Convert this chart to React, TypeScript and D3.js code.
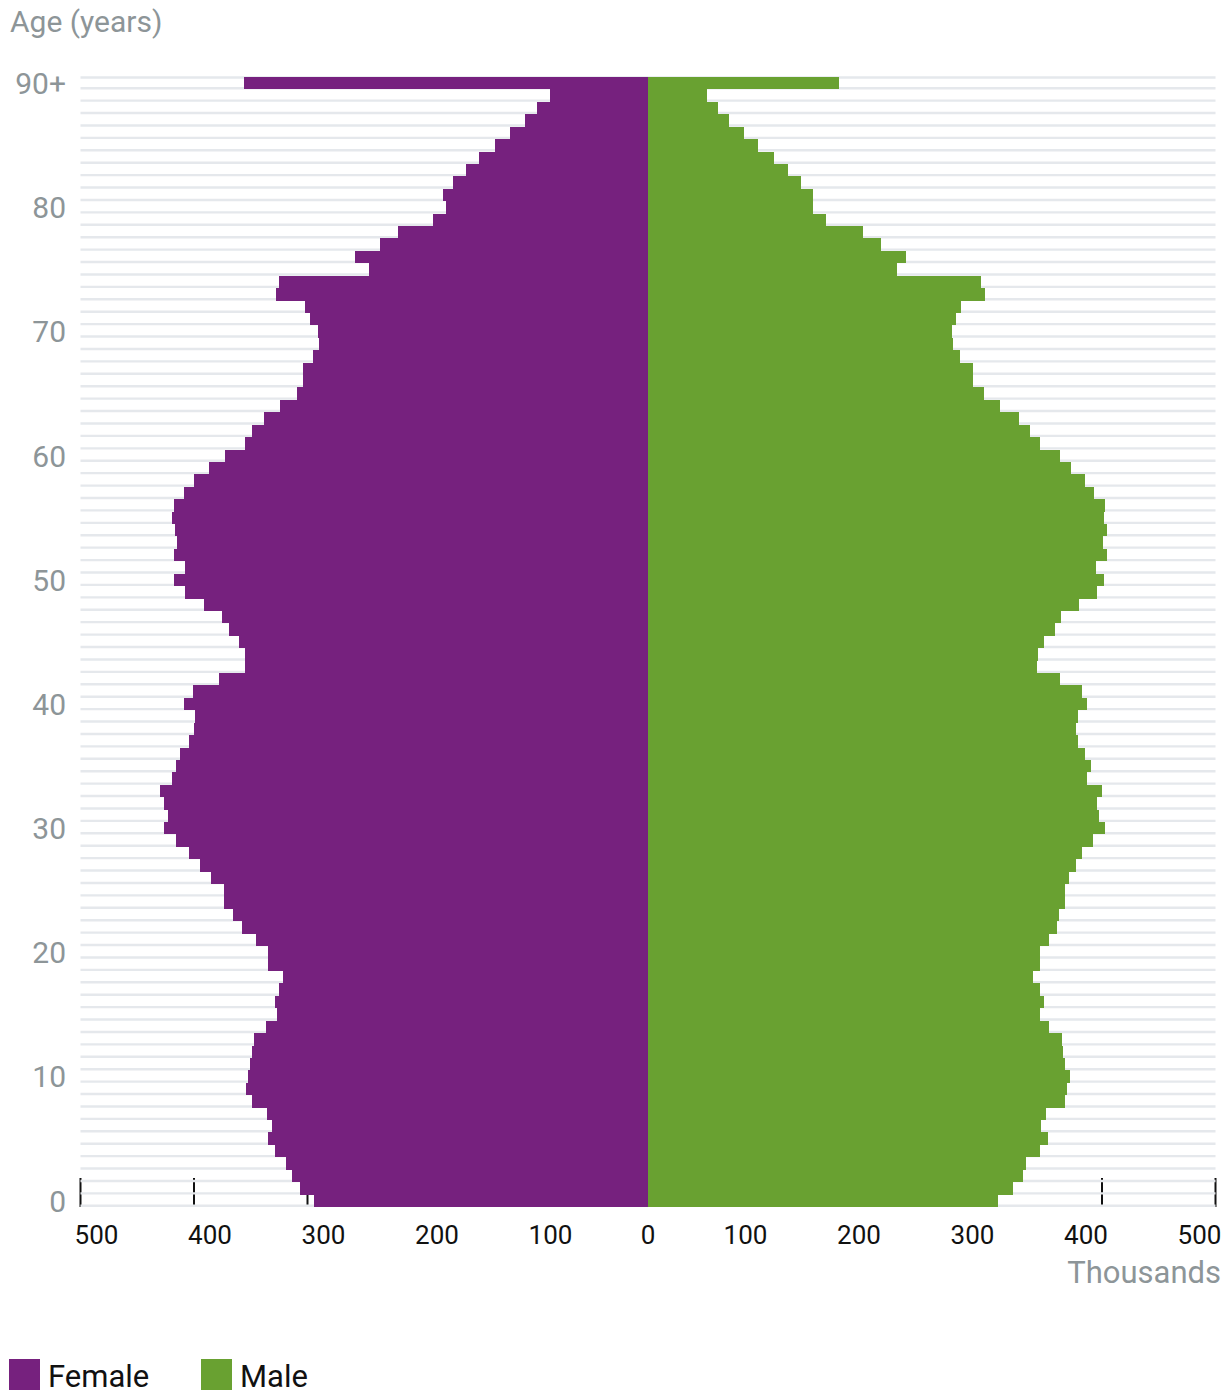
import React, { useEffect, useRef } from 'react';
import * as d3 from 'd3';

// age groups, youngest first
const ages = [
  '0', '1', '2', '3', '4', '5', '6', '7', '8', '9',
  '10', '11', '12', '13', '14', '15', '16', '17', '18', '19',
  '20', '21', '22', '23', '24', '25', '26', '27', '28', '29',
  '30', '31', '32', '33', '34', '35', '36', '37', '38', '39',
  '40', '41', '42', '43', '44', '45', '46', '47', '48', '49',
  '50', '51', '52', '53', '54', '55', '56', '57', '58', '59',
  '60', '61', '62', '63', '64', '65', '66', '67', '68', '69',
  '70', '71', '72', '73', '74', '75', '76', '77', '78', '79',
  '80', '81', '82', '83', '84', '85', '86', '87', '88', '89', '90+',
];

// thousands of people, same order as ages
const female = [
  294, 307, 314, 319, 329, 335, 331, 336, 349, 354,
  352, 351, 349, 347, 337, 327, 329, 325, 322, 335,
  335, 345, 358, 366, 374, 374, 385, 395, 404, 416,
  426, 423, 426, 430, 419, 416, 412, 404, 400, 399,
  409, 401, 378, 355, 355, 360, 369, 375, 391, 408,
  418, 408, 418, 415, 417, 419, 418, 409, 400, 387,
  373, 355, 349, 338, 324, 309, 304, 304, 295, 290,
  291, 298, 302, 328, 325, 246, 258, 236, 220, 189,
  178, 181, 172, 160, 149, 135, 122, 108, 98, 86, 356,
];

const male = [
  308, 322, 330, 333, 345, 352, 346, 351, 367, 369,
  372, 367, 366, 365, 353, 345, 349, 345, 339, 345,
  345, 353, 360, 362, 367, 367, 371, 377, 382, 392,
  403, 397, 396, 400, 387, 390, 385, 379, 377, 379,
  387, 382, 363, 343, 344, 349, 359, 364, 380, 396,
  402, 395, 404, 401, 404, 402, 403, 393, 385, 373,
  363, 345, 337, 327, 310, 296, 286, 286, 275, 269,
  268, 271, 276, 297, 293, 219, 227, 205, 189, 157,
  145, 145, 135, 123, 111, 97, 85, 71, 62, 52, 168,
];

const xTicks = [-500, -400, -300, -200, -100, 0, 100, 200, 300, 400, 500];
const yLabels = ['0', '10', '20', '30', '40', '50', '60', '70', '80', '90+'];

const FEMALE_COLOR = '#76217e';
const MALE_COLOR = '#69a131';
const GRID_COLOR = '#e5e8ec';
const MUTED = '#8d9598';
const FONT = 'Roboto, "Noto Sans", sans-serif';

export default function App() {
  const svgRef = useRef<SVGSVGElement>(null);

  const width = 1230;
  const height = 1394;

  useEffect(() => {
    document.body.style.margin = '0';
    const svg = d3.select(svgRef.current);
    svg.selectAll('*').remove();

    const x = d3.scaleLinear().domain([-500, 500]).range([80.5, 1215.5]);
    const y = d3.scaleBand()
      .domain(ages.slice().reverse())
      .range([77, 1207])
      .padding(0);
    const bw = y.bandwidth();

    // axis title
    svg.append('text')
      .attr('x', 10)
      .attr('y', 32)
      .attr('font-family', FONT)
      .attr('font-size', 30)
      .attr('fill', MUTED)
      .text('Age (years)');

    // tick marks at the bottom, behind everything
    svg.append('g')
      .selectAll('line')
      .data(xTicks)
      .enter()
      .append('line')
      .attr('x1', (d) => x(d))
      .attr('x2', (d) => x(d))
      .attr('y1', 1178)
      .attr('y2', 1207)
      .attr('stroke', '#111')
      .attr('stroke-width', 2);

    // one light line per age row
    const grid = svg.append('g');
    grid.append('line')
      .attr('x1', x(-500))
      .attr('x2', x(500))
      .attr('y1', 77.5)
      .attr('y2', 77.5)
      .attr('stroke', GRID_COLOR)
      .attr('stroke-width', 2.4);
    grid.selectAll('line.row')
      .data(ages)
      .enter()
      .append('line')
      .attr('class', 'row')
      .attr('x1', x(-500))
      .attr('x2', x(500))
      .attr('y1', (d) => y(d)! + bw - 1.2)
      .attr('y2', (d) => y(d)! + bw - 1.2)
      .attr('stroke', GRID_COLOR)
      .attr('stroke-width', 2.4);

    // bars
    svg.append('g')
      .selectAll('rect')
      .data(ages)
      .enter()
      .append('rect')
      .attr('x', (d, i) => x(-female[i]))
      .attr('y', (d) => y(d)!)
      .attr('width', (d, i) => x(0) - x(-female[i]))
      .attr('height', bw)
      .attr('fill', FEMALE_COLOR)
      .attr('shape-rendering', 'crispEdges');

    svg.append('g')
      .selectAll('rect')
      .data(ages)
      .enter()
      .append('rect')
      .attr('x', x(0))
      .attr('y', (d) => y(d)!)
      .attr('width', (d, i) => x(male[i]) - x(0))
      .attr('height', bw)
      .attr('fill', MALE_COLOR)
      .attr('shape-rendering', 'crispEdges');

    // age labels
    svg.append('g')
      .selectAll('text')
      .data(yLabels)
      .enter()
      .append('text')
      .attr('x', 66)
      .attr('y', (d) => y(d)! + bw / 2)
      .attr('dy', '0.36em')
      .attr('text-anchor', 'end')
      .attr('font-family', FONT)
      .attr('font-size', 30)
      .attr('fill', MUTED)
      .text((d) => d);

    // value labels, nudged toward the middle like the original
    svg.append('g')
      .selectAll('text')
      .data(xTicks)
      .enter()
      .append('text')
      .attr('x', (d) => x(d) - Math.sign(d) * 16)
      .attr('y', 1244)
      .attr('text-anchor', 'middle')
      .attr('font-family', FONT)
      .attr('font-size', 26)
      .attr('fill', '#111')
      .text((d) => Math.abs(d));

    svg.append('text')
      .attr('x', 1221)
      .attr('y', 1283)
      .attr('text-anchor', 'end')
      .attr('font-family', FONT)
      .attr('font-size', 31)
      .attr('fill', MUTED)
      .text('Thousands');

    // legend
    const legend = [
      { label: 'Female', color: FEMALE_COLOR, x: 9 },
      { label: 'Male', color: MALE_COLOR, x: 201 },
    ];
    const lg = svg.append('g')
      .selectAll('g')
      .data(legend)
      .enter()
      .append('g')
      .attr('transform', (d) => `translate(${d.x},1359)`);
    lg.append('rect')
      .attr('width', 31)
      .attr('height', 31)
      .attr('fill', (d) => d.color);
    lg.append('text')
      .attr('x', 39)
      .attr('y', 28)
      .attr('font-family', FONT)
      .attr('font-size', 31)
      .attr('fill', '#111')
      .text((d) => d.label);
  }, []);

  return (
    <div>
      <svg ref={svgRef} width={width} height={height} style={{ display: 'block' }} />
    </div>
  );
}
